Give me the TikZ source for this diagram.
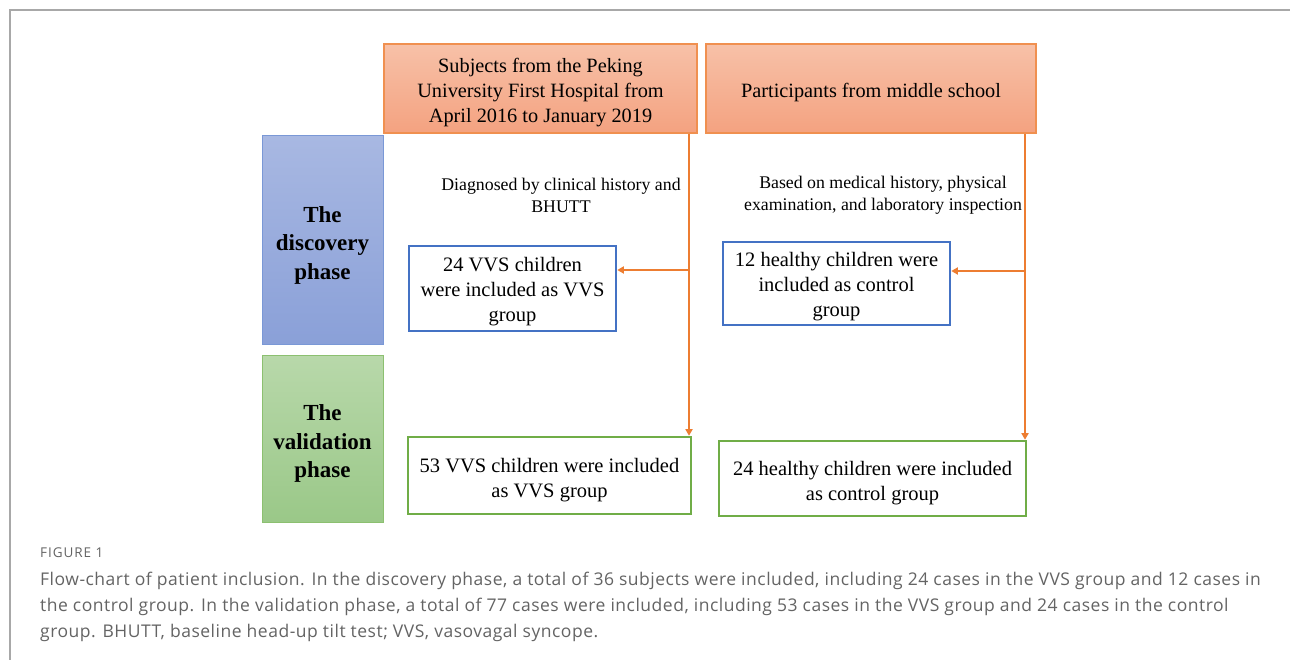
\documentclass[tikz,border=0pt]{standalone}
\usepackage{fontspec}
\setmainfont{Liberation Serif}
\newfontfamily\capfont{Open Sans}
\usetikzlibrary{arrows.meta}
\definecolor{org}{HTML}{ED7D31}
\definecolor{orgtop}{HTML}{F7C1A8}
\definecolor{orgbot}{HTML}{F4A280}
\definecolor{bluebd}{HTML}{4472C4}
\definecolor{bluetop}{HTML}{A8B8E2}
\definecolor{bluebot}{HTML}{8AA0D8}
\definecolor{bluephbd}{HTML}{7A98D6}
\definecolor{greenbd}{HTML}{70AD47}
\definecolor{greentop}{HTML}{B8D8AA}
\definecolor{greenbot}{HTML}{9AC888}
\definecolor{greenphbd}{HTML}{8CC070}
\definecolor{capgray}{HTML}{646464}
\definecolor{framegray}{HTML}{A8A8A8}
\newcommand\dn[1]{\rule{0pt}{#1}}
\tikzset{
  srcbox/.style={draw=org!85, line width=1.2pt, top color=orgtop, bottom color=orgbot,
    align=center, font=\fontsize{20.3}{25}\selectfont, inner sep=0pt},
  phasebox/.style={line width=1pt, align=center, inner sep=0pt,
    font=\fontsize{23}{28.5}\selectfont\bfseries},
  bluebox/.style={draw=bluebd, line width=2.6pt, fill=white, align=center,
    font=\fontsize{20.5}{25}\selectfont, inner sep=0pt},
  greenbox/.style={draw=greenbd, line width=2.6pt, fill=white, align=center,
    font=\fontsize{20.5}{25}\selectfont, inner sep=0pt},
  lbl/.style={align=center, font=\fontsize{17.8}{22}\selectfont, inner sep=0pt},
  arr/.style={draw=org, line width=2pt, -{Triangle[length=6.5pt,width=7pt]}},
}
\begin{document}
\begin{tikzpicture}[x=1pt,y=-1pt]
\useasboundingbox (0,0) rectangle (1290,660);
\fill[white] (0,0) rectangle (1290,660);
% frame
\draw[framegray, line width=1.6pt] (10,660) -- (10,10) -- (1290,10);

% source boxes
\node[srcbox, minimum width=313pt, minimum height=89pt] (A) at (540.5,88.5)
  {\dn{22.5pt}Subjects from the Peking\\University First Hospital from\\April 2016 to January 2019};
\node[srcbox, minimum width=330pt, minimum height=89pt] (B) at (871,88.5)
  {\dn{22.5pt}Participants from middle school};

% phase boxes
\node[phasebox, draw=bluephbd, top color=bluetop, bottom color=bluebot,
  minimum width=121pt, minimum height=208pt] (P1) at (322.5,240) {\dn{26pt}The\\discovery\\phase};
\node[phasebox, draw=greenphbd, top color=greentop, bottom color=greenbot,
  minimum width=121pt, minimum height=167pt] (P2) at (322.5,438.5) {\dn{26pt}The\\validation\\phase};

% labels
\node[lbl] (L1) at (561,195.5) {Diagnosed by clinical history and\\BHUTT};
\node[lbl] (L2) at (883,195.5) {Based on medical history, physical\\examination, and laboratory inspection};

% result boxes
\node[bluebox, minimum width=207pt, minimum height=85pt] (dV) at (512.5,288.5)
  {\dn{20pt}24 VVS children\\were included as VVS\\group};
\node[bluebox, minimum width=227pt, minimum height=83pt] (dC) at (836.5,283.5)
  {\dn{20.5pt}12 healthy children were\\included as control\\group};
\node[greenbox, minimum width=283pt, minimum height=77pt] (vV) at (549.5,475.5)
  {\dn{22.5pt}53 VVS children were included\\as VVS group};
\node[greenbox, minimum width=307pt, minimum height=75pt] (vC) at (872.5,478.5)
  {\dn{22.5pt}24 healthy children were included\\as control group};

% connectors
\coordinate (j1) at (689,270);
\coordinate (j2) at (1025,271);
\draw[arr] (A.south -| j1) -- (vV.north -| j1);
\draw[arr] (j1) -- (dV.east |- j1);
\draw[arr] (B.south -| j2) -- (vC.north -| j2);
\draw[arr] (j2) -- (dC.east |- j2);

% caption
\node[anchor=west, inner sep=0pt, text=capgray,
  font=\capfont\fontsize{13.5}{15}\selectfont\addfontfeature{LetterSpace=7}] (fig) at (40,553)
  {FIGURE 1};
\node[anchor=north west, inner sep=0pt, text=capgray, align=left,
  font=\capfont\fontsize{17.5}{26}\selectfont\addfontfeature{LetterSpace=2.9}] (cap) at (40,572)
  {Flow-chart of patient inclusion. In the discovery phase, a total of 36 subjects were included, including 24 cases in the VVS group and 12 cases in\\
   the control group. In the validation phase, a total of 77 cases were included, including 53 cases in the VVS group and 24 cases in the control\\
   group. BHUTT, baseline head-up tilt test; VVS, vasovagal syncope.};
\end{tikzpicture}
\end{document}
